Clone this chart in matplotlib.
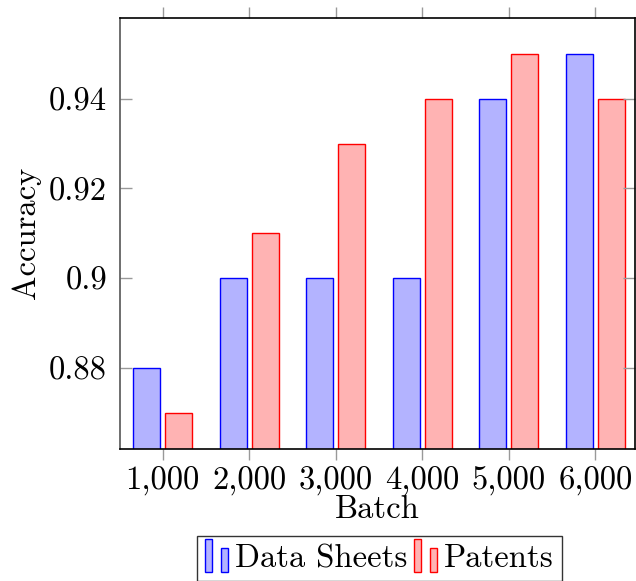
import matplotlib
matplotlib.use('Agg')
import matplotlib.pyplot as plt
from matplotlib.legend_handler import HandlerBase
from matplotlib.patches import Rectangle
from matplotlib.ticker import FuncFormatter, FixedLocator

# data
batches = [1000, 2000, 3000, 4000, 5000, 6000]
data_sheets = [0.88, 0.90, 0.90, 0.90, 0.94, 0.95]
patents = [0.87, 0.91, 0.93, 0.94, 0.95, 0.94]
yticks = [0.88, 0.90, 0.92, 0.94]

plt.rcParams['font.family'] = ['cmr10', 'DejaVu Sans']
plt.rcParams['axes.formatter.use_mathtext'] = True
FS = 23.5


class TwoBarHandler(HandlerBase):
    # pgfplots style ybar legend image: two small bars
    def create_artists(self, legend, orig_handle, xdescent, ydescent,
                       width, height, fontsize, trans):
        fc = orig_handle.get_facecolor()
        ec = orig_handle.get_edgecolor()
        w = width * 0.32
        y0 = -ydescent - 0.2 * height
        r1 = Rectangle((-xdescent, y0), w, height * 1.45,
                       facecolor=fc, edgecolor=ec, lw=1.0, transform=trans)
        r2 = Rectangle((-xdescent + width * 0.68, y0), w, height * 1.05,
                       facecolor=fc, edgecolor=ec, lw=1.0, transform=trans)
        return [r1, r2]


fig = plt.figure(figsize=(6.36, 5.81), dpi=100)
ax = fig.add_axes([119.5 / 636, 1 - 448.7 / 581, (635 - 119.5) / 636, (448.7 - 18) / 581])

bw = 312
off = 185
b1 = ax.bar([b - off for b in batches], data_sheets, width=bw, bottom=0,
            color=(0.7, 0.7, 1.0), edgecolor='blue', linewidth=1.0, label='Data Sheets')
b2 = ax.bar([b + off for b in batches], patents, width=bw, bottom=0,
            color=(1.0, 0.7, 0.7), edgecolor='red', linewidth=1.0, label='Patents')

ax.set_xlim(500, 6458)
ax.set_ylim(0.862, 0.958)

ax.xaxis.set_major_locator(FixedLocator(batches))
ax.xaxis.set_major_formatter(FuncFormatter(lambda v, p: '{:,}'.format(int(round(v)))))
ax.yaxis.set_major_locator(FixedLocator(yticks))
ax.yaxis.set_major_formatter(FuncFormatter(lambda v, p: '%g' % round(v, 4)))

ax.tick_params(axis='x', direction='out', top=True, bottom=True, length=8,
               width=1.0, color='#999999', labelsize=FS, pad=5)
ax.tick_params(axis='y', direction='in', left=True, right=True, length=8.5,
               width=1.0, color='#999999', labelsize=FS, pad=9)

for s in ax.spines.values():
    s.set_linewidth(1.2)
    s.set_color('black')
ax.spines['left'].set_color('#555555')

ax.set_xlabel('Batch', fontsize=FS, labelpad=-1)
ax.set_ylabel('Accuracy', fontsize=FS, labelpad=6)

leg = ax.legend(handles=[b1.patches[0], b2.patches[0]], labels=['Data Sheets', 'Patents'],
                handler_map={Rectangle: TwoBarHandler()},
                loc='upper center', bbox_to_anchor=(0.5 * (201.7 + 556.7) / 636, 1 - 536 / 581),
                bbox_transform=fig.transFigure, ncol=2, fontsize=FS, frameon=True,
                fancybox=False, edgecolor='#333333', framealpha=1,
                handlelength=0.72, handletextpad=0.2, columnspacing=0.2,
                borderpad=0.25, borderaxespad=0)
leg.get_frame().set_linewidth(1.0)

fig.savefig('out.png', dpi=100)
